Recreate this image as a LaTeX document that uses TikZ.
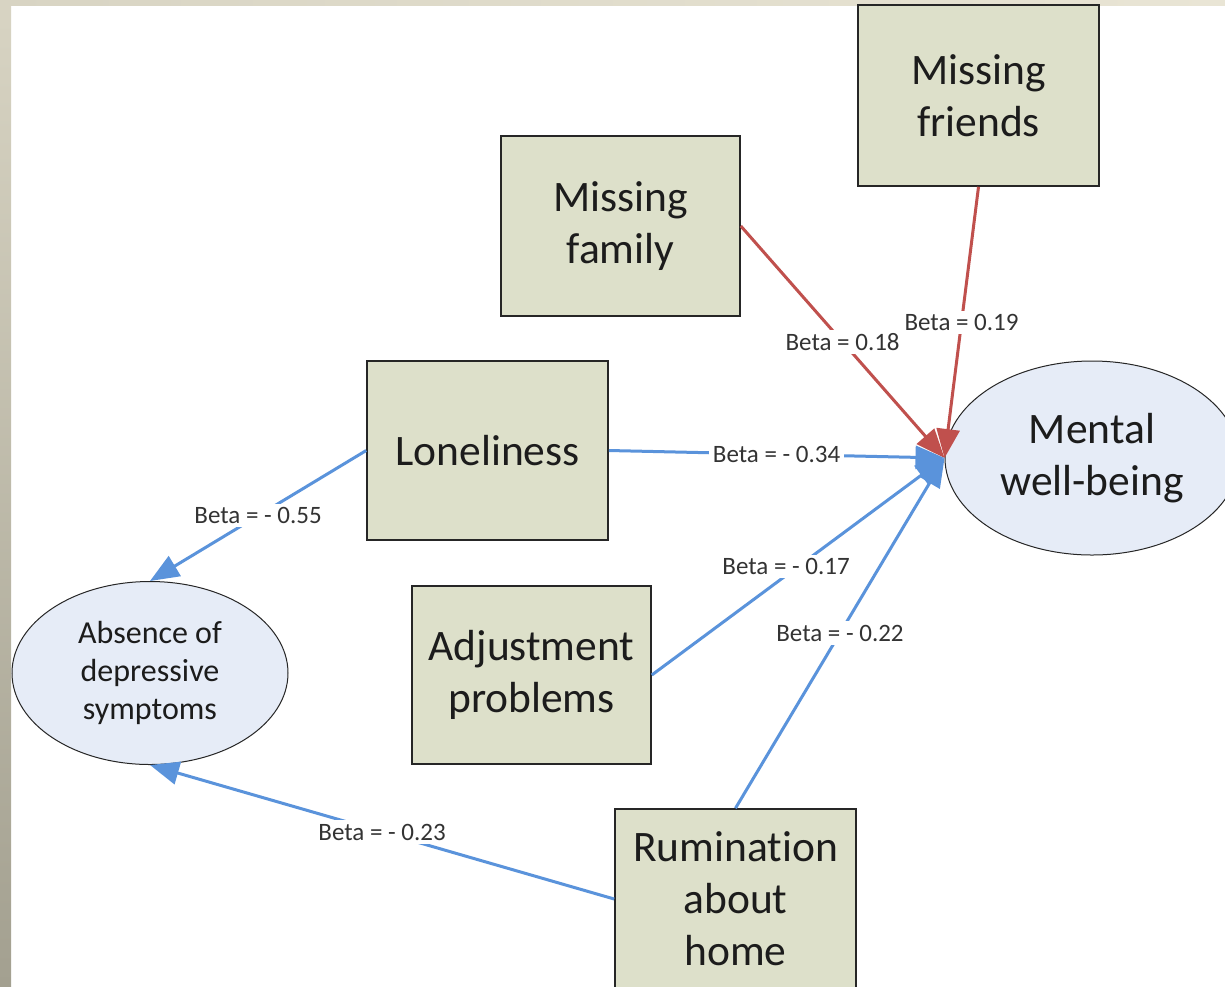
\documentclass[tikz,border=0pt]{standalone}
\usepackage{fontspec}
\setmainfont{Carlito}[Ligatures=NoCommon]
\usetikzlibrary{arrows.meta,shapes.geometric}
\definecolor{boxfill}{HTML}{DDE0CA}
\definecolor{ellfill}{HTML}{E6ECF7}
\definecolor{bluearr}{HTML}{5A93DB}
\definecolor{redarr}{HTML}{C0504D}
\definecolor{txt}{HTML}{1C1C1C}
\definecolor{bgtop}{HTML}{D8D4C3}
\definecolor{bgbot}{HTML}{A3A090}
\definecolor{bgright}{HTML}{E9E5D5}
\tikzset{
  box/.style={draw=black!85, line width=1.6pt, fill=boxfill, align=center,
    font=\fontsize{43.5}{52}\selectfont, text=txt, inner sep=0pt},
  ell/.style={ellipse, draw=black!85, line width=1pt, fill=ellfill, align=center,
    text=txt, inner sep=0pt},
  lab/.style={fill=white, inner sep=3.5pt, font=\fontsize{25}{30}\selectfont, text=txt!90},
  barr/.style={draw=bluearr, line width=3pt, -{Triangle[length=29pt,width=23pt]}},
  rarr/.style={draw=redarr, line width=3pt, -{Triangle[length=29pt,width=23pt]}}
}
\begin{document}
\begin{tikzpicture}[x=1pt,y=-1pt]
\useasboundingbox (0,0) rectangle (1225,986);
\fill[white] (0,0) rectangle (1225,986);
\shade[top color=bgtop, bottom color=bgbot] (0,0) rectangle (11,986);
\shade[left color=bgtop, right color=bgright] (0,0) rectangle (1225,5);

% nodes
\node[box, minimum width=241pt, minimum height=181pt] (fri) at (978.5,95.5) {Missing\\friends};
\node[box, minimum width=239pt, minimum height=180pt] (fam) at (620.5,226) {Missing\\family};
\node[box, minimum width=241pt, minimum height=179pt] (lon) at (487.5,450.5) {Loneliness};
\node[box, minimum width=239pt, minimum height=178pt] (adj) at (531.5,675) {Adjustment\\problems};
\node[box, minimum width=241pt, minimum height=180pt] (rum) at (735.5,899) {Rumination\\about\\home};
\node[ell, minimum width=294pt, minimum height=194pt, font=\fontsize{43.5}{52}\selectfont] (mw) at (1092,458) {Mental\\well-being};
\node[ell, minimum width=276pt, minimum height=183pt, font=\fontsize{32}{38}\selectfont] (abs) at (150,673) {Absence of\\depressive\\symptoms};

% connectors
\draw[rarr] (fam.east) -- node[lab]{Beta = 0.18} (mw.west);
\draw[rarr] (fri.south) -- node[lab]{Beta = 0.19} (mw.west);
\draw[barr] (lon.east) -- node[lab]{Beta = - 0.34} (mw.west);
\draw[barr] (adj.east) -- node[lab, xshift=-12pt]{Beta = - 0.17} (mw.west);
\draw[barr] (rum.north) -- node[lab]{Beta = - 0.22} (mw.west);
\draw[barr] (lon.west) -- node[lab]{Beta = - 0.55} (abs.north);
\draw[barr] (rum.west) -- node[lab]{Beta = - 0.23} (abs.south);
\end{tikzpicture}
\end{document}
